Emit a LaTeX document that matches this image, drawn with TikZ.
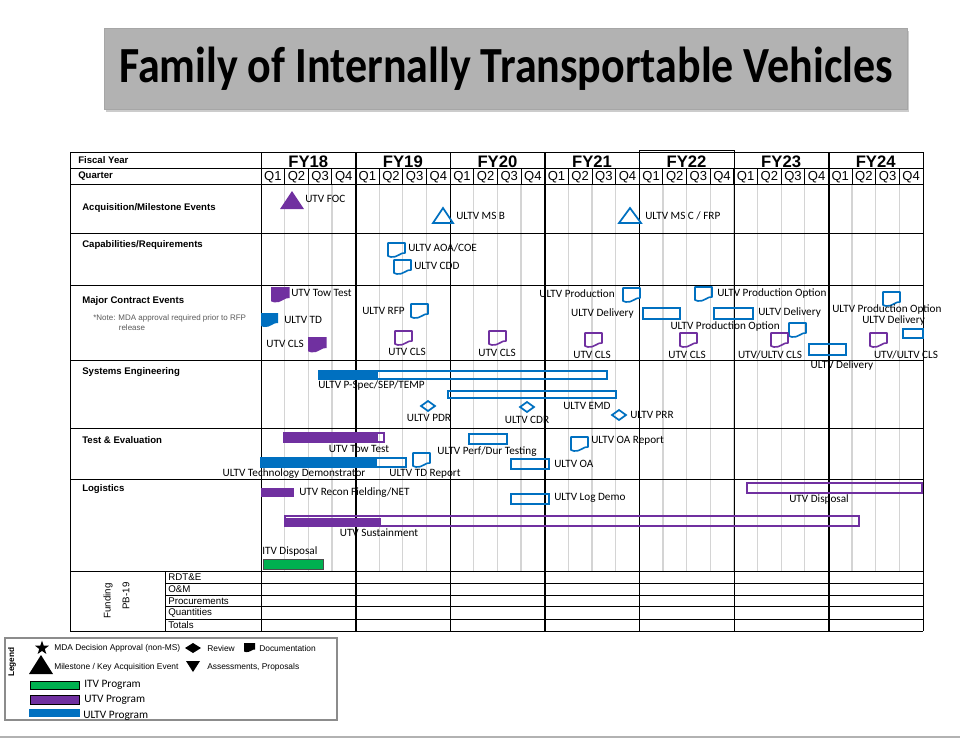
\documentclass[tikz,border=0pt]{standalone}
\usepackage{fontspec}
\setmainfont{Liberation Sans}
\newfontfamily\calfont{Carlito}
\usetikzlibrary{shapes.geometric, shadows}

\definecolor{utvpurple}{RGB}{112,48,160}
\definecolor{ultvblue}{RGB}{0,112,192}
\definecolor{itvgreen}{RGB}{0,176,80}
\definecolor{gridgray}{RGB}{212,212,212}
\definecolor{titlegray}{RGB}{178,178,178}

\tikzset{
  docmark/.pic={
    \path[pic actions] (0,0) -- (17,0) -- (17,10)
      .. controls (13,9) and (9,15) .. (3,14) -- (0,13) -- cycle;
  }
}

\begin{document}
\begin{tikzpicture}[x=0.75pt, y=-0.75pt,
    sect/.style={font=\bfseries\fontsize{7.2}{8}\selectfont, anchor=west, inner sep=0pt},
    hdr/.style={font=\bfseries\fontsize{7.2}{8}\selectfont, anchor=west, inner sep=0pt},
    fylbl/.style={font=\bfseries\fontsize{12.5}{13}\selectfont, inner sep=0pt},
    qlbl/.style={font=\fontsize{9.8}{10}\selectfont, inner sep=0pt},
    evt/.style={font=\calfont\fontsize{8.4}{9}\selectfont, inner sep=0pt},
    evtw/.style={evt, anchor=west},
    evte/.style={evt, anchor=east},
    fund/.style={font=\fontsize{7.3}{8}\selectfont, anchor=west, inner sep=0pt},
    leg/.style={font=\fontsize{6.3}{7}\selectfont, anchor=west, inner sep=0pt},
    legbar/.style={font=\calfont\fontsize{8.5}{9}\selectfont, anchor=west, inner sep=0pt},
    bluebar/.style={draw=ultvblue, line width=1.3pt},
    purplebar/.style={draw=utvpurple, line width=1.3pt},
    docline/.style={line width=1.2pt, line join=round},
    qgrid/.style={gridgray, line width=0.9pt},
    yrule/.style={line width=0.7pt},
    yrulethick/.style={line width=1.4pt}
  ]
  \useasboundingbox (0,0) rectangle (960,740);

  % Title
  \node[fill=titlegray, draw=black!35, minimum width=602pt, minimum height=61pt,
    drop shadow={shadow xshift=1pt, shadow yshift=-2pt, fill=black!40, opacity=0.5},
    font=\calfont\bfseries\fontsize{33}{36}\selectfont] (title) at (506,69)
    {\scalebox{1}[1.15]{Family of Internally Transportable Vehicles}};

  % Grid: gray quarter lines in body
  \foreach \k in {1,...,27} {
    \draw[qgrid] ({261+\k*23.643},184) -- ({261+\k*23.643},571);
    \draw[yrule] ({261+\k*23.643},168) -- ({261+\k*23.643},184);
  }

  % Horizontal rules
  \foreach \yy in {152,168,184,233,285,360,428,479,571,631}
    \draw[yrule] (70,\yy) -- (923,\yy);
  \foreach \yy in {583,595,606,619}
    \draw[yrule] (165,\yy) -- (923,\yy);

  % Vertical rules
  \draw[yrule] (70,152) -- (70,631);
  \draw[yrule] (261,152) -- (261,631);
  \draw[yrule] (923,152) -- (923,631);
  \draw[yrule] (165,571) -- (165,631);
  \draw[yrule] (639.4,150) -- (734,150);
  \foreach \xx/\w in {355.6/yrulethick, 450.1/yrule, 544.7/yrulethick,
      639.4/yrule, 734/yrule, 828.6/yrulethick}
    \draw[\w] (\xx,152) -- (\xx,631);
  \draw[yrule] (639.4,150) -- (639.4,152);
  \draw[yrule] (734,150) -- (734,152);

  % Header
  \node[hdr] (fyhdr) at (78,160) {Fiscal Year};
  \node[hdr] (qhdr) at (78,176) {Quarter};
  \foreach \yr in {0,...,6} {
    \pgfmathtruncatemacro\fy{18+\yr}
    \node[fylbl] (fy\yr) at ({261+(\yr*4+2)*23.643},162) {FY\fy};
    \foreach \q in {1,...,4}
      \node[qlbl] (q\yr-\q) at ({261+(\yr*4+\q-0.5)*23.643},177) {Q\q};
  }

  % Row labels
  \node[sect] (acq) at (82,208) {Acquisition/Milestone Events};
  \node[sect] (cap) at (82,245) {Capabilities/Requirements};
  \node[sect] (mce) at (82,301) {Major Contract Events};
  \node[font=\fontsize{6}{7}\selectfont, text=black!65, anchor=west, inner sep=0pt]
    (note) at (93,318) {*Note: MDA approval required prior to RFP};
  \node[font=\fontsize{6}{7}\selectfont, text=black!65, inner sep=0pt]
    (note2) at (132,328) {release};
  \node[sect] (se) at (82,372) {Systems Engineering};
  \node[sect] (te) at (82,440) {Test \& Evaluation};
  \node[sect] (log) at (82,489) {Logistics};

  % Acquisition/Milestone Events
  \fill[utvpurple] (292,191) -- (304,209) -- (280,209) -- cycle;
  \node[evtw] (utvfoc) at (305,199) {UTV FOC};
  \draw[ultvblue, line width=1.3pt] (443,208) -- (453,223) -- (433,223) -- cycle;
  \node[evtw] (msb) at (456,216) {ULTV MS B};
  \draw[ultvblue, line width=1.3pt] (630,208) -- (641,223) -- (619,223) -- cycle;
  \node[evtw] (msc) at (645,216) {ULTV MS C / FRP};

  % Capabilities/Requirements
  \pic[draw=ultvblue, docline] at (388,243) {docmark};
  \node[evtw] (aoa) at (408,248) {ULTV AOA/COE};
  \pic[draw=ultvblue, docline] at (394,260) {docmark};
  \node[evtw] (cdd) at (414,266) {ULTV CDD};

  % Major Contract Events
  \pic[fill=utvpurple, scale=1.1] at (271,287) {docmark};
  \node[evtw] (utvtow) at (291,293) {UTV Tow Test};
  \pic[fill=ultvblue] at (261,313) {docmark};
  \node[evtw] (ultvtd) at (284,320) {ULTV TD};
  \pic[fill=utvpurple, scale=1.1] at (308,337) {docmark};
  \node[evte] (cls1) at (304,344) {UTV CLS};
  \pic[draw=ultvblue, docline] at (411,304) {docmark};
  \node[evte] (rfp) at (405,311) {ULTV RFP};
  \pic[draw=utvpurple, docline] at (395,331) {docmark};
  \node[evt] (cls2) at (407,352) {UTV CLS};
  \pic[draw=utvpurple, docline] at (489,331) {docmark};
  \node[evt] (cls3) at (497,353) {UTV CLS};
  \pic[draw=ultvblue, docline] at (623,288) {docmark};
  \node[evte] (prod) at (615,294) {ULTV Production};
  \pic[draw=ultvblue, docline] at (695,287) {docmark};
  \node[evtw] (prodopt1) at (717,294) {ULTV Production Option};
  \node[evte] (deliv1) at (634,314) {ULTV Delivery};
  \draw[bluebar] (643,308) rectangle (680,319);
  \draw[bluebar] (714,308) rectangle (753,319);
  \node[evtw] (deliv2) at (758,313) {ULTV Delivery};
  \node[evte] (prodopt2) at (780,327) {ULTV Production Option};
  \pic[draw=ultvblue, docline] at (789,323) {docmark};
  \pic[draw=utvpurple, docline] at (585,333) {docmark};
  \node[evt] (cls4) at (592,355) {UTV CLS};
  \pic[draw=utvpurple, docline] at (680,333) {docmark};
  \node[evt] (cls5) at (687,355) {UTV CLS};
  \pic[draw=utvpurple, docline] at (771,333) {docmark};
  \node[evt] (cls6) at (770,355) {UTV/ULTV CLS};
  \draw[bluebar] (809,344) rectangle (846,355);
  \node[evt] (deliv3) at (842,366) {ULTV Delivery};
  \pic[draw=ultvblue, docline] at (883,292) {docmark};
  \node[evtw] (prodopt3) at (832,310) {ULTV Production Option};
  \node[evtw] (deliv4) at (862,321) {ULTV Delivery};
  \draw[bluebar] (903,329) rectangle (923,338);
  \pic[draw=utvpurple, docline] at (870,333) {docmark};
  \node[evt] (cls7) at (906,355) {UTV/ULTV CLS};

  % Systems Engineering
  \fill[ultvblue] (319,371) rectangle (378,379);
  \draw[bluebar] (319,371) rectangle (607,379);
  \node[evtw] (pspec) at (318,386) {ULTV P-Spec/SEP/TEMP};
  \draw[bluebar] (448,391) rectangle (616,398);
  \node[evtw] (emd) at (563,406) {ULTV EMD};
  \foreach \dx/\dy in {428/406, 527/407, 619/415}
    \draw[ultvblue, line width=1.3pt] (\dx,\dy-5) -- (\dx+7,\dy) -- (\dx,\dy+5) -- (\dx-7,\dy) -- cycle;
  \node[evt] (pdr) at (429,418) {ULTV PDR};
  \node[evt] (cdr) at (527,420) {ULTV CDR};
  \node[evtw] (prr) at (630,415) {ULTV PRR};

  % Test & Evaluation
  \fill[utvpurple] (284,433) rectangle (378,442);
  \draw[purplebar] (284,433) rectangle (384,442);
  \node[evt] (towtest) at (359,449) {UTV Tow Test};
  \fill[ultvblue] (261,458) rectangle (377,467);
  \draw[bluebar] (261,458) rectangle (406,467);
  \node[evt] (techdemo) at (294,474) {ULTV Technology Demonstrator};
  \pic[draw=ultvblue, docline] at (413,453) {docmark};
  \node[evt] (tdrep) at (425,474) {ULTV TD Report};
  \draw[bluebar] (469,434) rectangle (507,444);
  \node[evt] (perf) at (487,452) {ULTV Perf/Dur Testing};
  \draw[bluebar] (511,459) rectangle (549,469);
  \node[evtw] (oa) at (554,464) {ULTV OA};
  \pic[draw=ultvblue, docline] at (571,437) {docmark};
  \node[evtw] (oarep) at (591,441) {ULTV OA Report};

  % Logistics
  \fill[utvpurple] (261,488) rectangle (294,497);
  \node[evtw] (recon) at (299,493) {UTV Recon Fielding/NET};
  \draw[bluebar] (511,494) rectangle (549,504);
  \node[evtw] (logdemo) at (554,498) {ULTV Log Demo};
  \fill[utvpurple] (285,518) rectangle (381,526);
  \draw[purplebar] (285,516) rectangle (859,526);
  \node[evt] (sust) at (379,533) {UTV Sustainment};
  \draw[purplebar] (747,483) rectangle (922,493);
  \node[evt] (disp) at (819,500) {UTV Disposal};
  \draw[fill=itvgreen, draw=black!70, line width=0.6pt] (263,559) rectangle (323,569);
  \node[evtw] (itvdisp) at (262,552) {ITV Disposal};

  % Funding
  \node[rotate=90, font=\fontsize{7.3}{8}\selectfont, inner sep=0pt] (funding) at (108,601) {Funding};
  \node[rotate=90, font=\fontsize{7.3}{8}\selectfont, inner sep=0pt] (pb) at (126,596) {PB-19};
  \node[fund] (rdte) at (168,577) {RDT\&E};
  \node[fund] (om) at (168,589) {O\&M};
  \node[fund] (proc) at (168,601) {Procurements};
  \node[fund] (qty) at (168,613) {Quantities};
  \node[fund] (tot) at (168,625) {Totals};

  % Legend
  \draw[black!45, line width=0.8pt] (5,638) rectangle (337,720);
  \node[rotate=90, font=\bfseries\fontsize{6.2}{8}\selectfont, inner sep=0pt] (legend) at (12,662) {Legend};
  \node[star, star points=5, star point ratio=2.5, fill=black, inner sep=0pt,
    minimum size=11pt] (legstar) at (42,648) {};
  \node[leg] (mda) at (54,648) {MDA Decision Approval (non-MS)};
  \fill (193,643) -- (201,648) -- (193,653) -- (185,648) -- cycle;
  \node[leg] (rev) at (207,648) {Review};
  \pic[fill=black, scale=0.65] at (244,643) {docmark};
  \node[leg] (docu) at (259,648) {Documentation};
  \fill (41,655) -- (53,674) -- (29,674) -- cycle;
  \node[leg] (mile) at (54,667) {Milestone / Key Acquisition Event};
  \fill (186,661) -- (200,661) -- (193,672) -- cycle;
  \node[leg] (assess) at (207,667) {Assessments, Proposals};
  \draw[fill=itvgreen, line width=0.6pt] (30,681) rectangle (79,689);
  \node[legbar] (itvp) at (84,685) {ITV Program};
  \draw[fill=utvpurple, line width=0.6pt] (30,695) rectangle (79,704);
  \node[legbar] (utvp) at (84,700) {UTV Program};
  \fill[ultvblue] (29,709) rectangle (80,717);
  \node[legbar] (ultvp) at (83,716) {ULTV Program};

  % Bottom rule
  \draw[black!30, line width=2pt] (0,737) -- (960,737);
\end{tikzpicture}
\end{document}
